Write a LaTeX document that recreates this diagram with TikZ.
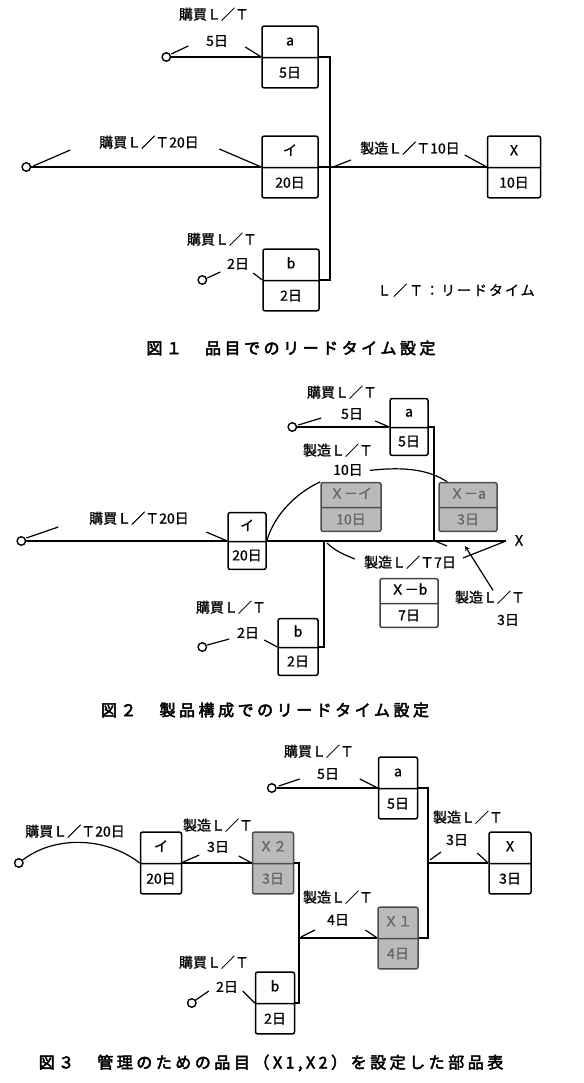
\documentclass[tikz,border=0pt]{standalone}
\usepackage{fontspec}
\setmainfont{Noto Sans CJK JP}
\newfontfamily\lblfont[FakeBold=1]{Noto Sans CJK JP}
\newfontfamily\capfont[FakeBold=3,LetterSpace=22]{Noto Sans CJK JP}
\newfontfamily\notefont[FakeBold=1,LetterSpace=14]{Noto Sans CJK JP}
\usepackage{tikz}
\usetikzlibrary{shapes,arrows,positioning}

\begin{document}
\begin{tikzpicture}[x=1pt, y=-1pt,
    box/.style args={#1/#2}{rectangle split, rectangle split parts=2, draw,
                rounded corners=2pt, line width=1.5pt, minimum width=#1,
                inner xsep=0pt, inner ysep=#2, text height=10pt, text depth=3pt,
                font=\lblfont\fontsize{14pt}{16pt}\selectfont},
    grbox/.style={box=#1, fill=black!27, draw=black!70, text=black!60},
    src/.style={circle, draw, line width=1.4pt, inner sep=0pt, minimum size=8.5pt, fill=white},
    lbl/.style={inner sep=1pt, text height=11pt, text depth=2pt,
                font=\lblfont\fontsize{14pt}{16pt}\selectfont},
    ln/.style={line width=1.2pt},
    arr/.style={-stealth, line width=1.2pt},
    captxt/.style={font=\capfont\fontsize{16pt}{18pt}\selectfont},
    node distance=10pt
]
    \useasboundingbox (0,0) rectangle (583,1083);

    % Fig. 1
    \node[box=56pt/8.5pt] (A1) at (290,57) {a\nodepart{two}5日};
    \node[box=56pt/8.5pt] (I1) at (290,167) {イ\nodepart{two}20日};
    \node[box=56pt/8.5pt] (B1) at (291,280) {b\nodepart{two}2日};
    \node[box=53pt/8.5pt] (X1) at (514,167) {X\nodepart{two}10日};
    \node[src, left=90pt of A1] (SA1) {};
    \node[src, left=230pt of I1] (SI1) {};
    \node[src, left=55pt of B1] (SB1) {};
    \coordinate (J1) at (330,167);

    \node[lbl] (P1a) at (214,15) {購買Ｌ／Ｔ};
    \node[lbl, below=11pt of P1a, xshift=3pt] (D1a) {5日};
    \node[lbl] (P1i) at (149,143) {購買Ｌ／Ｔ20日};
    \node[lbl] (M1) at (410,149) {製造Ｌ／Ｔ10日};
    \node[lbl] (P1b) at (222,240) {購買Ｌ／Ｔ};
    \node[lbl, below=9pt of P1b, xshift=16pt] (D1b) {2日};
    \node[lbl, font=\notefont\fontsize{14pt}{16pt}\selectfont] (N1) at (456,291) {Ｌ／Ｔ：リードタイム};
    \node[captxt] (C1) at (291,348) {図１　品目でのリードタイム設定};

    \draw[ln] (SA1) -- (A1.west);
    \draw[ln] (A1.east) -| (J1) |- (B1.east);
    \draw[ln] (SI1) -- (I1.west);
    \draw[ln] (I1.east) -- (X1.west);
    \draw[ln] (SA1) ++(5,-3) -- ++(17,-8);
    \draw[ln] (A1.west) -- ++(-16,-10);
    \draw[ln] (SI1) ++(7,-1) -- ++(37,-16);
    \draw[ln] (I1.west) -- ++(-42,-18);
    \draw[ln] (J1) ++(3,0) -- ++(18,-7);
    \draw[ln] (X1.west) -- ++(-22,-12);
    \draw[ln] (SB1) ++(5,-2) -- ++(13,-6);
    \draw[ln] (B1.west) -- ++(-9,-7);

    % Fig. 2
    \node[box=38pt/7.25pt] (A2) at (409,427) {a\nodepart{two}5日};
    \node[box=38pt/7.25pt] (I2) at (247,541) {イ\nodepart{two}20日};
    \node[box=40pt/7.25pt] (B2) at (298,647) {b\nodepart{two}2日};
    \node[grbox=60pt/5.25pt] (XI2) at (351,507) {Ｘ－イ\nodepart{two}10日};
    \node[grbox=58pt/5.25pt] (XA2) at (468,507) {Ｘ－a\nodepart{two}3日};
    \node[box=58pt/5.25pt, draw=black!75] (XB2) at (409,603) {Ｘ－b\nodepart{two}7日};
    \node[src, left=92pt of A2] (SA2) {};
    \node[src, left=201pt of I2] (SI2) {};
    \node[src, left=70pt of B2] (SB2) {};
    \coordinate (J2a) at (434,541);
    \coordinate (J2b) at (324,541);
    \coordinate (E2) at (506,541);
    \coordinate (T2) at (465,546);

    \node[lbl] (P2a) at (342,393) {購買Ｌ／Ｔ};
    \node[lbl, below=6pt of P2a, xshift=10pt] (D2a) {5日};
    \node[lbl] (M2a) at (338,451) {製造Ｌ／Ｔ};
    \node[lbl, below=4pt of M2a, xshift=10pt] (D2m) {10日};
    \node[lbl] (P2i) at (139,519) {購買Ｌ／Ｔ20日};
    \node[lbl] (P2b) at (231,608) {購買Ｌ／Ｔ};
    \node[lbl, below=10pt of P2b, xshift=17pt] (D2b) {2日};
    \node[lbl] (M2b) at (410,563) {製造Ｌ／Ｔ7日};
    \node[lbl] (M2c) at (490,598) {製造Ｌ／Ｔ};
    \node[lbl, below=7pt of M2c, xshift=18pt] (D2c) {3日};
    \node[lbl] (XL2) at (519,541) {X};
    \node[captxt] (C2) at (265,710) {図２　製品構成でのリードタイム設定};

    \draw[ln] (SA2) -- (A2.west);
    \draw[ln] (A2.east) -| (J2a);
    \draw[ln] (SI2) -- (I2.west);
    \draw[ln] (I2.east) -- (E2);
    \draw[ln] (B2.east) -| (J2b);
    \draw[ln] (I2.east) .. controls +(8,-28) and +(-22,10) .. (XI2.north west);
    \draw[ln] ([xshift=6pt]D2m.east) .. controls +(35,-4) and +(-18,-12) .. ([xshift=9pt]XA2.north west);
    \draw[ln] (SA2) ++(6,-2) -- ++(23,-7);
    \draw[ln] (A2.west) -- ++(-14,-6);
    \draw[ln] (SI2) ++(5,-3) -- ++(32,-11);
    \draw[ln] (I2.west) -- ++(-21,-9);
    \draw[ln] (SB2) ++(5,-2) -- ++(22,-6);
    \draw[ln] (B2.west) -- ++(-13,-7);
    \draw[ln] (J2b) ++(3,2) .. controls +(8,8) and +(-10,-4) .. ([shift={(-8,-4)}]M2b.west);
    \draw[ln] (J2a) ++(1,0) -- ++(12,5);
    \draw[ln] (E2) -- ++(-43,17);
    \draw[arr] ([xshift=3pt]M2c.north) -- (T2);

    % Fig. 3
    \node[box=39pt/8.5pt] (A3) at (398,788) {a\nodepart{two}5日};
    \node[box=41pt/8.5pt] (I3) at (161,863) {イ\nodepart{two}20日};
    \node[grbox=41pt/8.5pt] (X23) at (273,863) {Ｘ２\nodepart{two}3日};
    \node[box=42pt/8.5pt] (X3) at (510,863) {X\nodepart{two}3日};
    \node[grbox=40pt/8.5pt] (X13) at (398,938) {Ｘ１\nodepart{two}4日};
    \node[box=39pt/8.5pt] (B3) at (275,1003) {b\nodepart{two}2日};
    \node[src, left=101pt of A3] (SA3) {};
    \node[src, left=116pt of I3] (SI3) {};
    \node[src, left=58pt of B3] (SB3) {};
    \coordinate (J3a) at (428,863);
    \coordinate (J3b) at (299,938);

    \node[lbl] (P3a) at (319,752) {購買Ｌ／Ｔ};
    \node[lbl, below=7pt of P3a, xshift=9pt] (D3a) {5日};
    \node[lbl] (P3i) at (75,832) {購買Ｌ／Ｔ20日};
    \node[lbl] (M3a) at (218,826) {製造Ｌ／Ｔ};
    \node[lbl, below=6pt of M3a] (D3b) {3日};
    \node[lbl] (M3b) at (338,898) {製造Ｌ／Ｔ};
    \node[lbl, below=7pt of M3b] (D3c) {4日};
    \node[lbl] (M3c) at (468,818) {製造Ｌ／Ｔ};
    \node[lbl, below=7pt of M3c, xshift=-11pt] (D3d) {3日};
    \node[lbl] (P3b) at (214,963) {購買Ｌ／Ｔ};
    \node[lbl, below=9pt of P3b, xshift=13pt] (D3e) {2日};
    \node[captxt] (C3) at (271,1063) {図３　管理のための品目（X1,X2）を設定した部品表};

    \draw[ln] (SA3) -- (A3.west);
    \draw[ln] (A3.east) -| (J3a) |- (X13.east);
    \draw[ln] (J3a) -- (X3.west);
    \draw[ln] (SI3) .. controls +(35,-27) and +(-35,-27) .. (I3.west);
    \draw[ln] (I3.east) -- (X23.west);
    \draw[ln] (X23.east) -| (J3b) |- (B3.east);
    \draw[ln] (J3b) -- (X13.west);
    \draw[ln] (SA3) ++(7,-2) -- ++(21,-7);
    \draw[ln] (A3.west) -- ++(-18,-9);
    \draw[ln] (I3.east) ++(1,-1) -- ++(16,-7);
    \draw[ln] (X23.west) -- ++(-13,-7);
    \draw[ln] (J3b) ++(2,-1) -- ++(14,-7);
    \draw[ln] (X13.west) -- ++(-12,-8);
    \draw[ln] (J3a) ++(2,-3) -- ++(11,-8);
    \draw[ln] (X3.west) -- ++(-11,-10);
    \draw[ln] (SB3) ++(4,-3) -- ++(13,-9);
    \draw[ln] (B3.west) -- ++(-12,-12);
\end{tikzpicture}
\end{document}
